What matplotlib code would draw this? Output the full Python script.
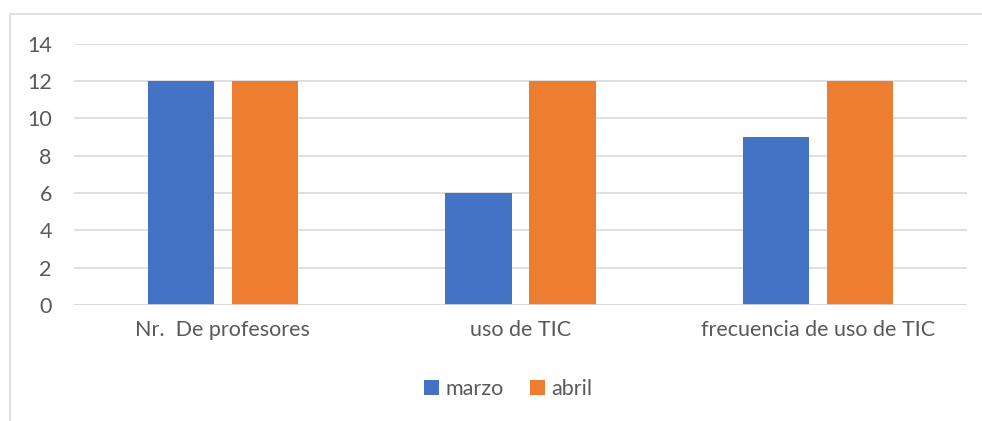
import matplotlib
matplotlib.use("Agg")
import matplotlib.pyplot as plt
import numpy as np
from matplotlib.patches import Rectangle

categories = ["Nr.  De profesores", "uso de TIC", "frecuencia de uso de TIC"]
marzo = [12, 6, 9]
abril = [12, 12, 12]
yticks = [0, 2, 4, 6, 8, 10, 12, 14]

W, H = 982, 421
fig = plt.figure(figsize=(W / 100, H / 100), dpi=100)
plt.rcParams['font.family'] = ['Lato', 'DejaVu Sans']
txt = '#595959'
grid = '#d9d9d9'
fs = 15.5

# chart border
fig.patches.append(Rectangle((10 / W, -0.1), 1.2, 1 - 14 / H + 0.1, transform=fig.transFigure,
                             fill=False, edgecolor=grid, linewidth=1.2))

left, right, top, bottom = 74, 967, 43.5, 305
ax = fig.add_axes([left / W, 1 - bottom / H, (right - left) / W, (bottom - top) / H])
x = np.arange(len(categories))
bw = 0.222
off = 0.141
ax.bar(x - off, marzo, bw, color='#4472c4', label='marzo', zorder=3)
ax.bar(x + off, abril, bw, color='#ed7d31', label='abril', zorder=3)
ax.set_xlim(-0.5, 2.5)
ax.set_ylim(0, 14)
ax.set_yticks(yticks)
ax.set_yticklabels([str(v) for v in yticks])
ax.set_xticks(x)
ax.set_xticklabels(categories)
for s in ax.spines.values():
    s.set_visible(False)
ax.yaxis.grid(True, color=grid, linewidth=1.2, zorder=0)
ax.axhline(0, color=grid, linewidth=1.2, zorder=4)
ax.tick_params(axis='both', length=0, labelsize=fs, colors=txt)
ax.tick_params(axis='y', pad=16)
ax.tick_params(axis='x', pad=11)

leg = fig.legend(loc='center', bbox_to_anchor=(508 / W, 1 - 389 / H), ncol=2, frameon=False,
                 fontsize=fs, handlelength=0.7, handleheight=0.7, handletextpad=0.3,
                 columnspacing=1.2)
for t in leg.get_texts():
    t.set_color(txt)

fig.savefig('out.png', dpi=100)
